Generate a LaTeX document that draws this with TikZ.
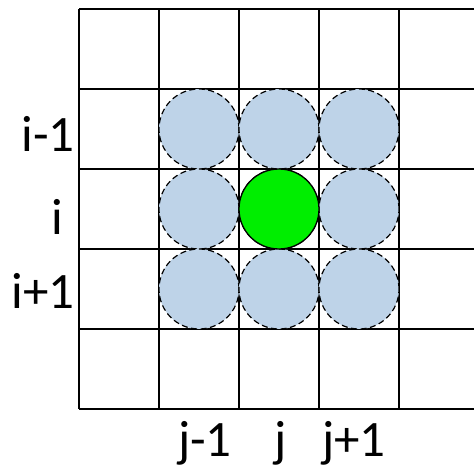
\documentclass[tikz,border=0pt]{standalone}
\usepackage{fontspec}
\setmainfont{Carlito}
\usetikzlibrary{positioning}
\definecolor{nbrblue}{RGB}{190,211,232}
\definecolor{ctrgreen}{RGB}{0,238,0}

\begin{document}
\begin{tikzpicture}[x=1pt,y=-1pt,
  gridline/.style={line width=1.3pt},
  nbr/.style={circle,draw,dash pattern=on 6pt off 3.5pt,fill=nbrblue,minimum size=80pt,inner sep=0pt,line width=1.2pt},
  ctr/.style={circle,draw,fill=ctrgreen,minimum size=80pt,inner sep=0pt,line width=1.3pt},
  lbl/.style={font=\fontsize{51}{60}\selectfont,inner sep=0pt}]
\useasboundingbox (0,0) rectangle (474,465);
% grid
\foreach \x in {79,159,...,479}
  \draw[gridline] (\x,9) -- (\x,409);
\foreach \y in {9,89,...,409}
  \draw[gridline] (79,\y) -- (479,\y);
% neighbours
\foreach \r in {1,2,3}
  \foreach \c in {1,2,3}
    \node[nbr] (c\r\c) at (119+80*\c,49+80*\r) {};
\node[ctr] (c22) at (279,209) {};
% row labels
\node[lbl,anchor=base east] (ri1) at (75,152) {i-1};
\node[lbl,anchor=base] (ri) at (57,235) {i};
\node[lbl,anchor=base east] (ri2) at (75,308) {i+1};
% column labels
\node[lbl,anchor=base] (cj1) at (205,456) {j-1};
\node[lbl,anchor=base] (cj) at (281,456) {j};
\node[lbl,anchor=base] (cj2) at (354,456) {j+1};
\end{tikzpicture}
\end{document}
